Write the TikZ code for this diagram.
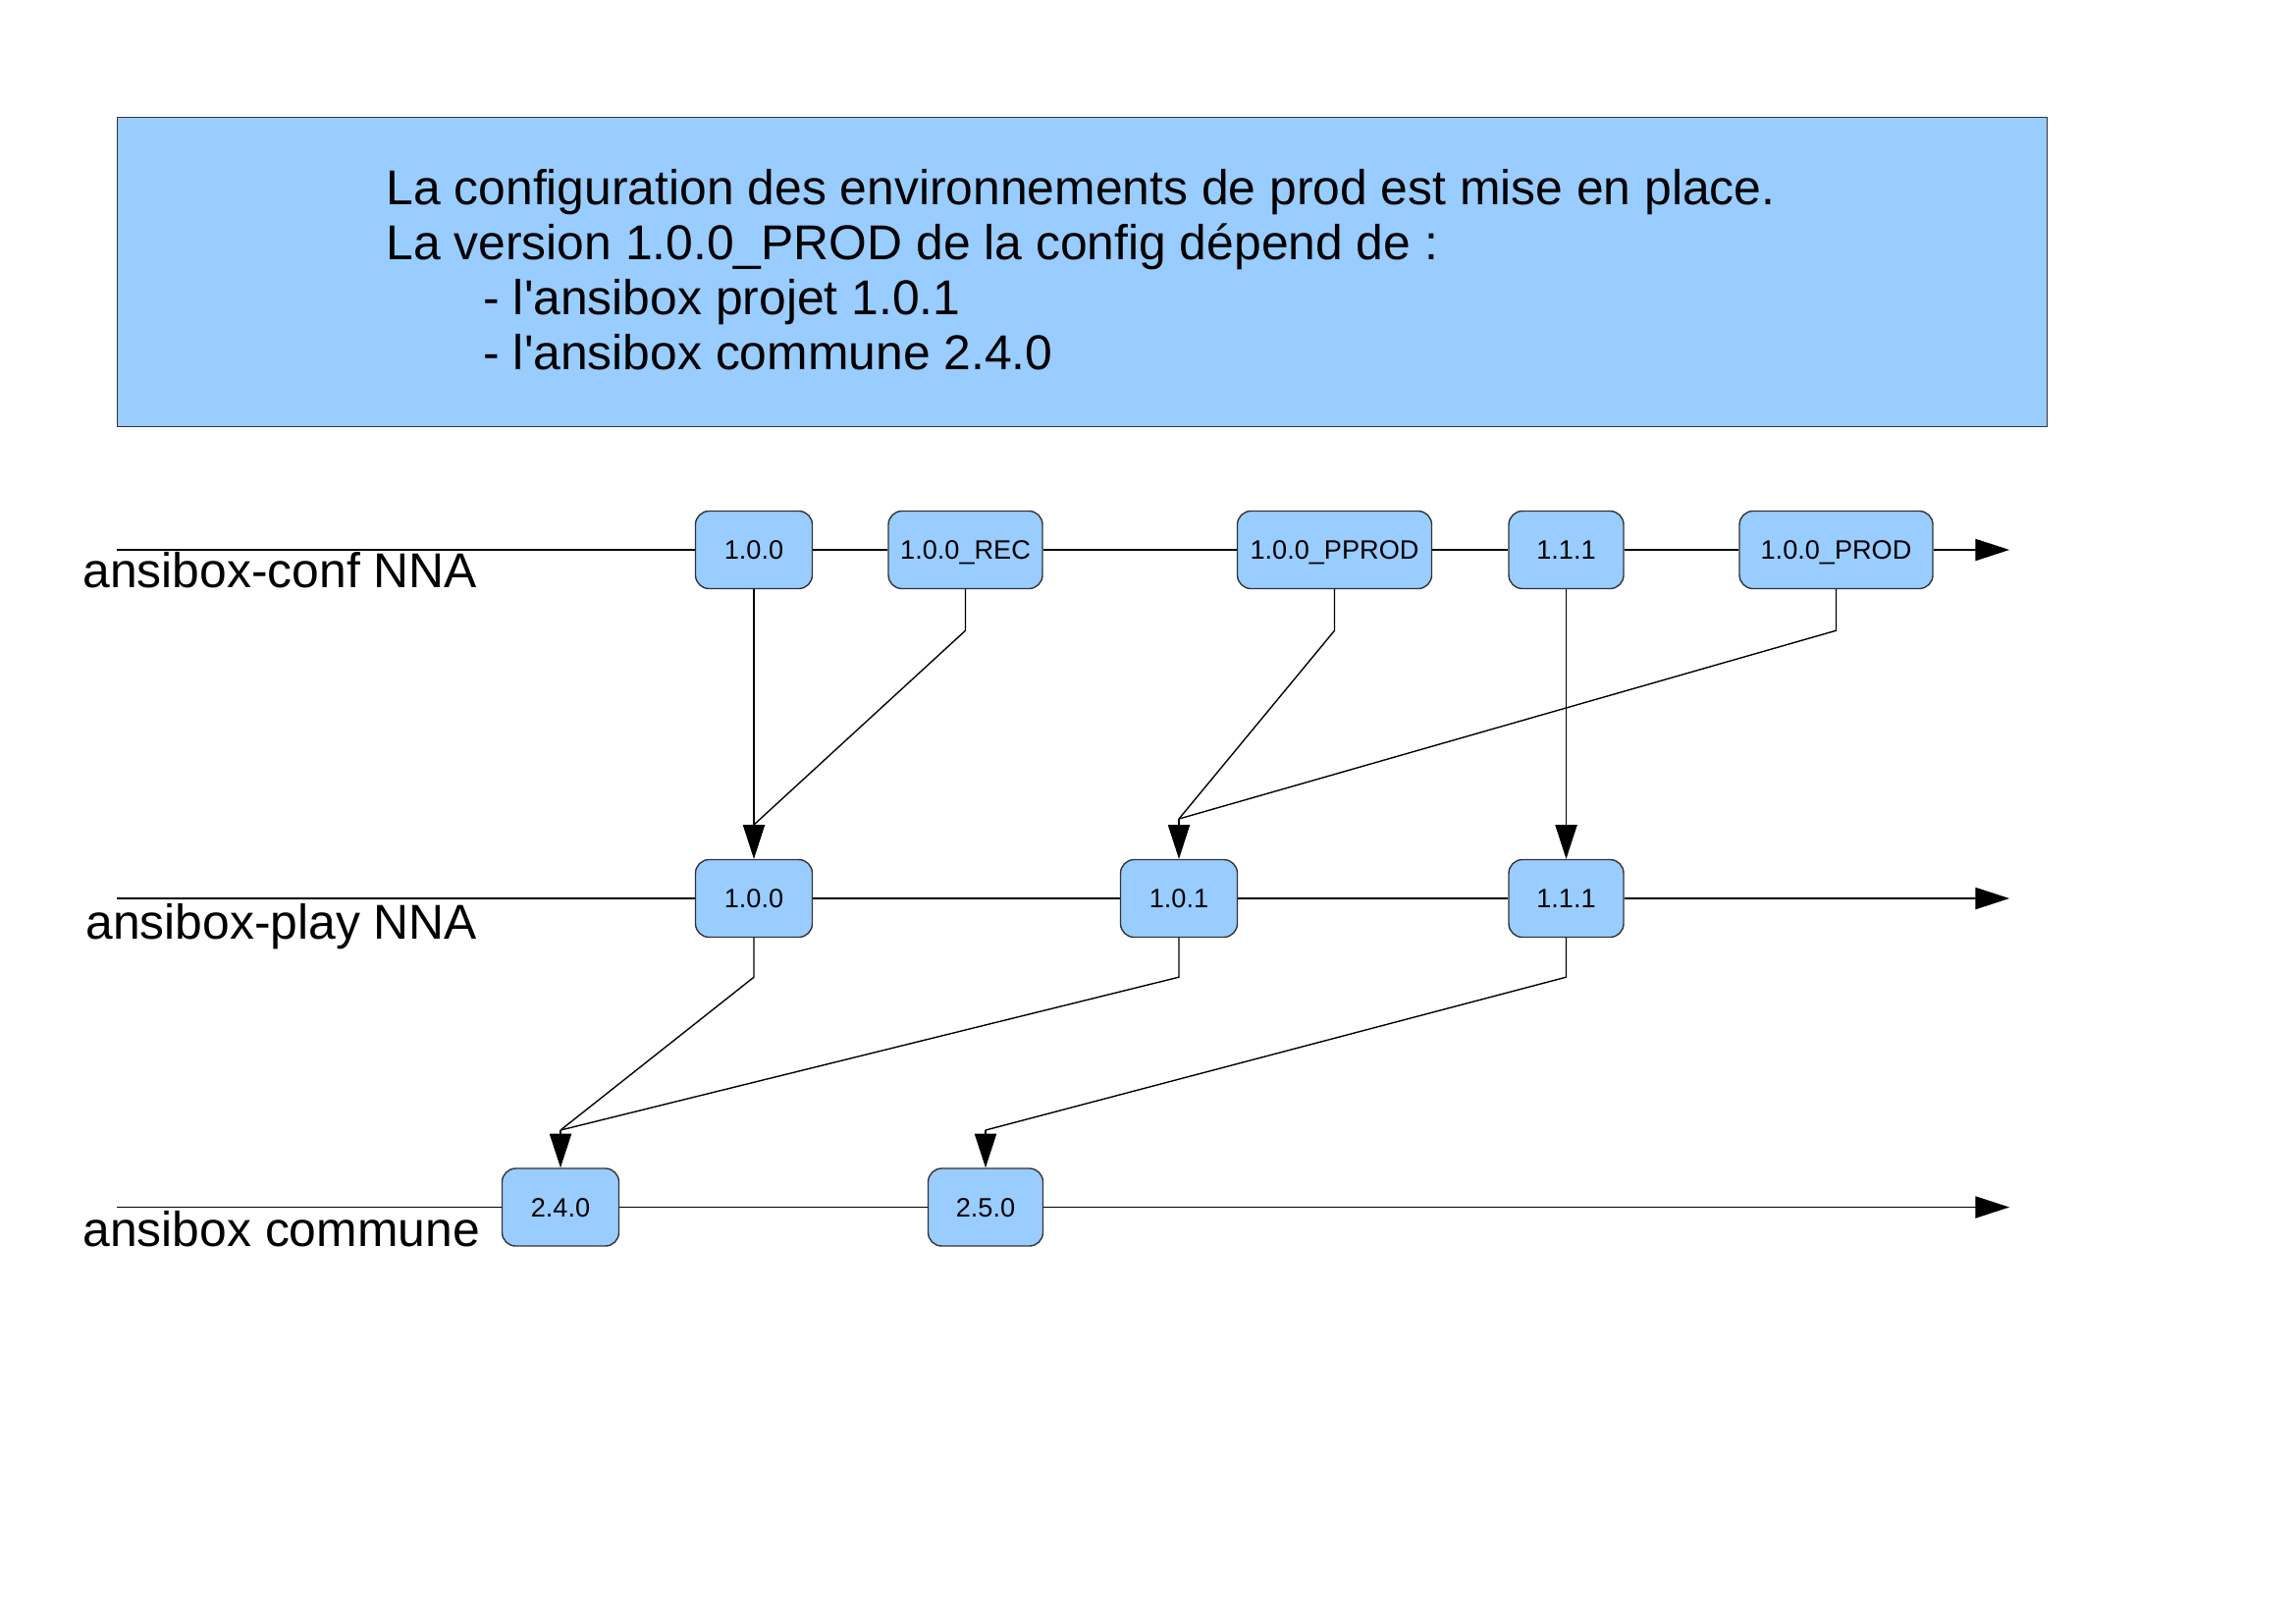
\documentclass[tikz,border=0pt]{standalone}
\usepackage{fontspec}
\newfontfamily\lib{Liberation Sans}
\usetikzlibrary{arrows.meta}
\definecolor{boxblue}{HTML}{99CCFF}
\definecolor{edge}{HTML}{333333}
\begin{document}
\begin{tikzpicture}[x=0.36135pt,y=-0.36135pt,
  ver/.style={draw=edge, fill=boxblue, rounded corners=5pt, line width=0.5pt,
    minimum height=79*0.36135pt, minimum width=#1*0.36135pt, inner sep=0pt,
    text height=7pt, text depth=0pt,
    font=\lib\fontsize{9.8}{12}\selectfont},
  ln/.style={line width=0.5pt, draw=black},
  arr/.style={ln, -{Triangle[length=12.5pt,width=8pt]}},
  lbl/.style={anchor=base west, inner sep=0pt, font=\lib\fontsize{18}{21}\selectfont}]
\useasboundingbox (0,0) rectangle (2339,1653);

% header
\node[draw=edge, fill=boxblue, line width=0.5pt, minimum width=1966*0.36135pt,
  minimum height=315*0.36135pt, anchor=north west, inner sep=0pt] (hdr) at (119,119) {};
\node[lbl] (t1) at (393,208) {La configuration des environnements de prod est mise en place.};
\node[lbl] (t2) at (393,264) {La version 1.0.0\_PROD de la config dépend de :};
\node[lbl] (t3) at (492,320) {- l'ansibox projet 1.0.1};
\node[lbl] (t4) at (492,376) {- l'ansibox commune 2.4.0};

% row labels
\node[lbl] (l1) at (84,598) {ansibox-conf NNA};
\node[lbl] (l2) at (87,956) {ansibox-play NNA};
\node[lbl] (l3) at (84,1269) {ansibox commune};

% row ends
\coordinate (s1) at (119,560);
\coordinate (e1) at (2047,560);
\coordinate (s2) at (119,915);
\coordinate (e2) at (2047,915);
\coordinate (s3) at (119,1229.5);
\coordinate (e3) at (2047,1229.5);

% row 1 boxes
\node[ver=119] (c1a) at (768,560) {1.0.0};
\node[ver=157] (c1b) at (983.5,560) {1.0.0\_REC};
\node[ver=198] (c1c) at (1359.5,560) {1.0.0\_PPROD};
\node[ver=117] (c1d) at (1595.5,560) {1.1.1};
\node[ver=197] (c1e) at (1870.5,560) {1.0.0\_PROD};
% row 2 boxes
\node[ver=119] (c2a) at (768,915) {1.0.0};
\node[ver=119] (c2b) at (1201,915) {1.0.1};
\node[ver=117] (c2c) at (1595.5,915) {1.1.1};
% row 3 boxes
\node[ver=119] (c3a) at (571,1229.5) {2.4.0};
\node[ver=117] (c3b) at (1004,1229.5) {2.5.0};

% row lines
\draw[ln] (s1) -- (c1a) -- (c1b) -- (c1c) -- (c1d) -- (c1e);
\draw[arr] (c1e) -- (e1);
\draw[ln] (s2) -- (c2a) -- (c2b) -- (c2c);
\draw[arr] (c2c) -- (e2);
\draw[ln] (s3) -- (c3a) -- (c3b);
\draw[arr] (c3b) -- (e3);

% merge points
\coordinate (m1) at (768,840);
\coordinate (m2) at (1201,834);
\coordinate (m3) at (571,1151);
\coordinate (m4) at (1004,1151);

% dependencies conf -> play
\draw[arr] (c1a) -- (c2a);
\draw[ln] (c1b.south) -- ++(0,42) -- (m1);
\draw[ln] (c1c.south) -- ++(0,42) -- (m2);
\draw[ln] (c1e.south) -- ++(0,42) -- (m2);
\draw[arr] (m2) -- (c2b.north);
\draw[arr] (c1d) -- (c2c);

% dependencies play -> commune
\draw[ln] (c2a.south) -- ++(0,40) -- (m3);
\draw[ln] (c2b.south) -- ++(0,40) -- (m3);
\draw[arr] (m3) -- (c3a.north);
\draw[ln] (c2c.south) -- ++(0,40) -- (m4);
\draw[arr] (m4) -- (c3b.north);
\end{tikzpicture}
\end{document}
